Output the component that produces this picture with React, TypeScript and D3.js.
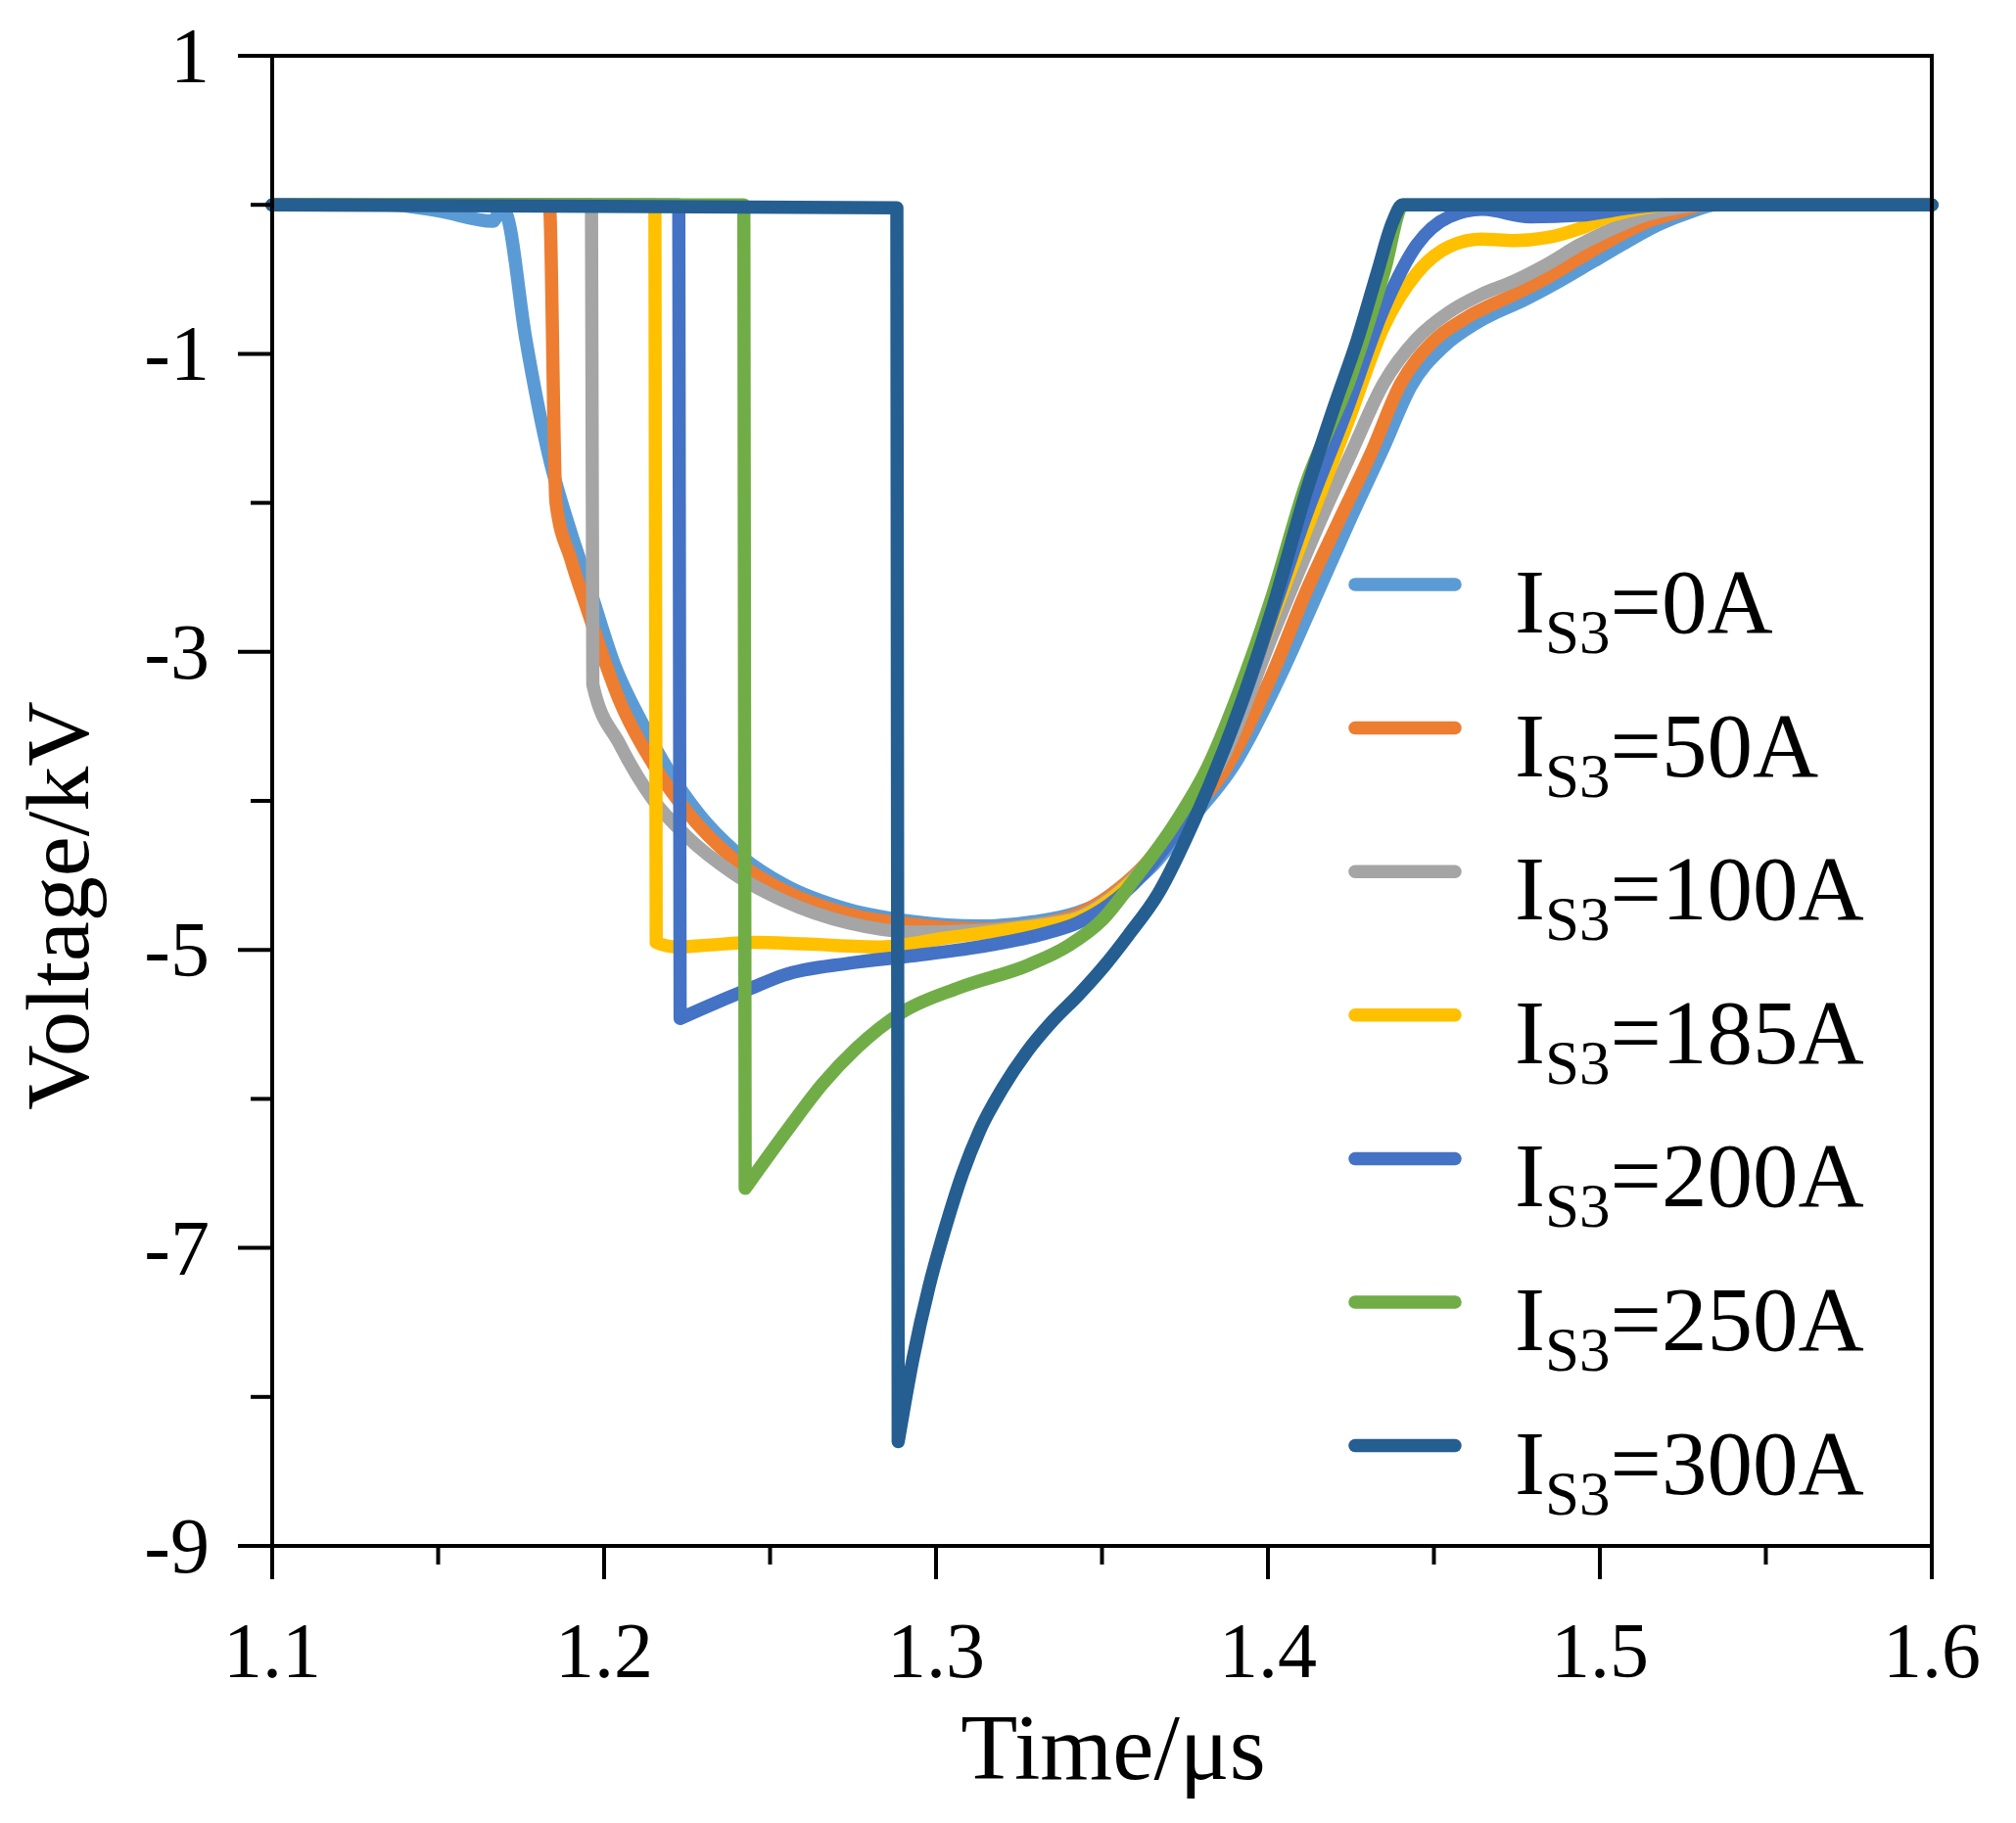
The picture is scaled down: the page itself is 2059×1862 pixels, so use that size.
import React from "react";
import * as d3 from "d3";

// ---------------- data ----------------
const seriesNames = ["0A", "50A", "100A", "185A", "200A", "250A", "300A"];
const seriesColors = ["#5B9BD5", "#ED7D31", "#A5A5A5", "#FFC000", "#4472C4", "#70AD47", "#255E91"];

const t0A = [1.1, 1.135, 1.15, 1.1665, 1.169, 1.1705, 1.1764, 1.1832, 1.19, 1.196, 1.203, 1.212, 1.2195, 1.229, 1.239, 1.254, 1.2737, 1.293, 1.313, 1.33, 1.3425, 1.355, 1.365, 1.375, 1.39, 1.405, 1.415, 1.425, 1.435, 1.443, 1.453, 1.463, 1.478, 1.488, 1.498, 1.508, 1.518, 1.527, 1.535, 1.6];
const v0A = [0, 0, -0.04, -0.11, -0.03, -0.06, -0.9, -1.67, -2.2, -2.6, -3.08, -3.5, -3.8, -4.1, -4.33, -4.56, -4.73, -4.81, -4.84, -4.81, -4.75, -4.62, -4.44, -4.17, -3.75, -3.1, -2.6, -2.1, -1.62, -1.22, -0.95, -0.79, -0.63, -0.51, -0.38, -0.25, -0.13, -0.05, 0, 0];

const t50A = [1.1, 1.1835, 1.1855, 1.19, 1.195, 1.2, 1.2047, 1.2147, 1.2245, 1.239, 1.254, 1.2737, 1.293, 1.313, 1.33, 1.3425, 1.352, 1.362, 1.372, 1.3867, 1.4015, 1.4112, 1.4212, 1.431, 1.44, 1.4496, 1.4596, 1.4743, 1.484, 1.4938, 1.5038, 1.5136, 1.5234, 1.532, 1.6];
const v50A = [0, 0, -2.0, -2.38, -2.72, -3.05, -3.33, -3.75, -4.06, -4.39, -4.6, -4.76, -4.83, -4.86, -4.83, -4.76, -4.64, -4.45, -4.18, -3.8, -3.14, -2.61, -2.13, -1.67, -1.2, -0.92, -0.76, -0.6, -0.49, -0.36, -0.23, -0.12, -0.05, 0, 0];

const t100A = [1.1, 1.1962, 1.1966, 1.2047, 1.2147, 1.2245, 1.2392, 1.254, 1.2737, 1.293, 1.313, 1.33, 1.3425, 1.352, 1.362, 1.372, 1.3867, 1.4015, 1.4162, 1.425, 1.4348, 1.4448, 1.4546, 1.4644, 1.4743, 1.484, 1.4938, 1.5038, 1.5136, 1.5234, 1.53, 1.6];
const v100A = [0, 0, -3.22, -3.62, -3.99, -4.23, -4.49, -4.67, -4.82, -4.88, -4.87, -4.83, -4.78, -4.66, -4.46, -4.18, -3.7, -2.88, -2.1, -1.67, -1.2, -0.9, -0.72, -0.6, -0.51, -0.4, -0.27, -0.16, -0.07, -0.02, 0, 0];

const t185A = [1.1, 1.2153, 1.2157, 1.222, 1.23, 1.245, 1.26, 1.2835, 1.303, 1.3227, 1.3425, 1.352, 1.362, 1.372, 1.385, 1.4, 1.4112, 1.4242, 1.4348, 1.4448, 1.4546, 1.4644, 1.4743, 1.484, 1.4938, 1.5038, 1.5136, 1.52, 1.6];
const v185A = [0, 0, -4.95, -4.98, -4.97, -4.95, -4.96, -4.98, -4.92, -4.86, -4.79, -4.67, -4.47, -4.2, -3.7, -2.85, -2.2, -1.45, -0.82, -0.46, -0.28, -0.23, -0.24, -0.22, -0.16, -0.07, -0.02, 0, 0];

const t200A = [1.1, 1.2225, 1.2229, 1.2342, 1.244, 1.254, 1.2737, 1.293, 1.313, 1.3327, 1.3425, 1.352, 1.362, 1.372, 1.382, 1.392, 1.402, 1.4112, 1.4235, 1.4348, 1.4448, 1.4546, 1.4645, 1.479, 1.494, 1.509, 1.52, 1.6];
const v200A = [0, 0, -5.46, -5.35, -5.26, -5.17, -5.09, -5.04, -4.98, -4.89, -4.82, -4.7, -4.5, -4.22, -3.88, -3.35, -2.7, -2.1, -1.39, -0.7, -0.27, -0.08, -0.03, -0.08, -0.07, -0.02, 0, 0];

const t250A = [1.1, 1.2421, 1.2425, 1.2555, 1.2658, 1.276, 1.2897, 1.3074, 1.328, 1.34, 1.35, 1.36, 1.372, 1.3817, 1.3917, 1.4015, 1.4112, 1.425, 1.435, 1.4408, 1.6];
const v250A = [0, 0, -6.6, -6.2, -5.9, -5.66, -5.42, -5.25, -5.1, -4.97, -4.8, -4.52, -4.15, -3.78, -3.24, -2.61, -1.89, -1.15, -0.45, 0, 0];

const t300A = [1.1, 1.2882, 1.2886, 1.293, 1.298, 1.303, 1.308, 1.313, 1.32, 1.3275, 1.335, 1.343, 1.351, 1.358, 1.367, 1.378, 1.3917, 1.4015, 1.4112, 1.42, 1.427, 1.433, 1.4375, 1.4405, 1.6];
const v300A = [0, -0.02, -8.3, -7.75, -7.25, -6.85, -6.5, -6.22, -5.93, -5.68, -5.48, -5.3, -5.1, -4.9, -4.62, -4.12, -3.36, -2.7, -1.95, -1.35, -0.9, -0.45, -0.12, 0, 0];

const seriesTimes = [t0A, t50A, t100A, t185A, t200A, t250A, t300A];
const seriesValues = [v0A, v50A, v100A, v185A, v200A, v250A, v300A];

const xMajorTicks = [1.1, 1.2, 1.3, 1.4, 1.5, 1.6];
const xMinorTicks = [1.15, 1.25, 1.35, 1.45, 1.55];
const yMajorTicks = [1, -1, -3, -5, -7, -9];
const yMinorTicks = [0, -2, -4, -6, -8];

// ---------------- layout ----------------
const W = 2059;
const H = 1862;
const M = { left: 278, right: 1973, top: 57, bottom: 1579 };
const FONT = "'Liberation Serif', 'Times New Roman', Times, serif";

export default function App() {
  const x = d3.scaleLinear().domain([1.1, 1.6]).range([M.left, M.right]);
  const y = d3.scaleLinear().domain([1, -9]).range([M.top, M.bottom]);

  const buildPath = (ts: number[], vs: number[]) => {
    const pts: [number, number][] = ts.map((t, i) => [t, vs[i]]);
    let minI = 0;
    vs.forEach((v, i) => { if (v < vs[minI]) minI = i; });
    const line = d3
      .line<[number, number]>()
      .x((d) => x(d[0]))
      .y((d) => y(d[1]))
      .curve(d3.curveMonotoneX);
    const isCusp = minI > 0 && ts[minI] - ts[minI - 1] < 0.001;
    if (isCusp) {
      const a = line(pts.slice(0, minI + 1)) || "";
      const b = line(pts.slice(minI)) || "";
      return a + b.replace(/^M/, "L");
    }
    return line(pts) || "";
  };

  const legendX1 = 1384;
  const legendX2 = 1486;
  const legendY0 = 597;
  const legendDY = 146.6;

  return (
    <svg
      width={W}
      height={H}
      viewBox={`0 0 ${W} ${H}`}
      style={{ position: "absolute", left: 0, top: 0, display: "block", background: "#fff" }}
      fontFamily={FONT}
    >
      <rect x={0} y={0} width={W} height={H} fill="#fff" />
      <g fill="none" strokeWidth={13.5} strokeLinejoin="round" strokeLinecap="round">
        {seriesTimes.map((ts, i) => (
          <path key={i} d={buildPath(ts, seriesValues[i])} stroke={seriesColors[i]} />
        ))}
      </g>
      <rect
        x={M.left}
        y={M.top}
        width={M.right - M.left}
        height={M.bottom - M.top}
        fill="none"
        stroke="#000"
        strokeWidth={4}
      />
      <g stroke="#000" strokeWidth={4}>
        {yMajorTicks.map((v) => (
          <line key={"ym" + v} x1={M.left - 35} x2={M.left} y1={y(v)} y2={y(v)} />
        ))}
        {yMinorTicks.map((v) => (
          <line key={"yn" + v} x1={M.left - 22} x2={M.left} y1={y(v)} y2={y(v)} />
        ))}
        {xMajorTicks.map((t) => (
          <line key={"xm" + t} x1={x(t)} x2={x(t)} y1={M.bottom} y2={M.bottom + 34} />
        ))}
        {xMinorTicks.map((t) => (
          <line key={"xn" + t} x1={x(t)} x2={x(t)} y1={M.bottom} y2={M.bottom + 19} />
        ))}
      </g>
      <g fontSize={80} fill="#000">
        {yMajorTicks.map((v) => (
          <text key={"yl" + v} x={214} y={y(v) + 27} textAnchor="end">
            {String(v)}
          </text>
        ))}
        {xMajorTicks.map((t) => (
          <text key={"xl" + t} x={x(t)} y={1713} textAnchor="middle">
            {d3.format(".1f")(t)}
          </text>
        ))}
      </g>
      <text x={1137} y={1817} fontSize={95} textAnchor="middle" fill="#000">
        Time/μs
      </text>
      <text
        transform={`translate(90, 925) rotate(-90)`}
        fontSize={92}
        textAnchor="middle"
        fill="#000"
      >
        Voltage/kV
      </text>
      <g>
        {seriesNames.map((name, i) => {
          const ly = legendY0 + i * legendDY;
          return (
            <g key={"lg" + name}>
              <line
                x1={legendX1}
                x2={legendX2}
                y1={ly}
                y2={ly}
                stroke={seriesColors[i]}
                strokeWidth={13.5}
                strokeLinecap="round"
              />
              <text x={1547} y={ly + 49} fontSize={93} fill="#000">
                <tspan>I</tspan>
                <tspan fontSize={63} dy={21}>S3</tspan>
                <tspan dy={-21}>{"=" + name}</tspan>
              </text>
            </g>
          );
        })}
      </g>
    </svg>
  );
}
